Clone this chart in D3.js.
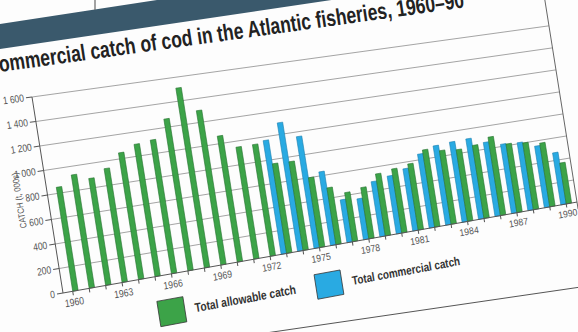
<!DOCTYPE html>
<html><head><meta charset="utf-8">
<script src="https://cdn.jsdelivr.net/npm/d3@7"></script>
<style>
html,body{margin:0;padding:0;width:578px;height:332px;overflow:hidden;background:#fdfdfd;}
svg{position:absolute;left:0;top:0;}
</style></head>
<body>
<script>
// ---- data ----
const years = [1960,1961,1962,1963,1964,1965,1966,1967,1968,1969,1970,1971,1972,1973,1974,1975,1976,1977,1978,1979,1980,1981,1982,1983,1984,1985,1986,1987,1988,1989,1990];
const allowableCatch = [850,930,880,940,1050,1100,1115,1270,1510,1300,1065,950,950,765,760,600,490,425,445,540,560,580,680,650,635,650,700,615,600,575,370];
const commercialYears = [1973,1974,1975,1976,1977,1978,1979,1980,1981,1982,1983,1984,1985,1986,1987,1988,1989,1990];
const commercialCatch = [970,1100,960,635,370,355,480,505,545,650,700,710,715,660,620,610,555,470];
const yTickValues = [0,200,400,600,800,1000,1200,1400,1600];
const yTickLabels = ["0","200","400","600","800","1 000","1 200","1 400","1 600"];
const xLabelYears = [1960,1963,1966,1969,1972,1975,1978,1981,1984,1987,1990];
const titleText = "Commercial catch of cod in the Atlantic fisheries, 1960–90";
const yAxisTitle = "CATCH (t, 000s)";
const legendLabels = ["Total allowable catch","Total commercial catch"];

// ---- photo geometry: bilinear warp of the flat chart (u along axis, yc up negative) ----
const C1=[63,293], C2=[32,97], C3=[583,201], C4=[555,25], UW=520, YH=198;
function P(u,yc){
  const t=u/UW, s=-yc/YH;
  const L=[C1[0]+s*(C2[0]-C1[0]), C1[1]+s*(C2[1]-C1[1])];
  const R=[C3[0]+s*(C4[0]-C3[0]), C3[1]+s*(C4[1]-C3[1])];
  return [L[0]+t*(R[0]-L[0]), L[1]+t*(R[1]-L[1])];
}
function M(u,yc){
  const p=P(u,yc), a=P(u+1,yc), b=P(u,yc+1);
  return `matrix(${a[0]-p[0]},${a[1]-p[1]},${b[0]-p[0]},${b[1]-p[1]},${p[0]},${p[1]})`;
}
const poly = pts => pts.map(q=>P(q[0],q[1]).join(",")).join(" ");

const svg = d3.select("body").append("svg").attr("width",578).attr("height",332);
svg.append("rect").attr("width",578).attr("height",332).attr("fill","#fdfdfd");

// header band
svg.append("polygon").attr("points","-10,25.5 -10,50.5 345,-2 170,-2").attr("fill","#3a596c");
svg.append("line").attr("x1",95).attr("x2",95).attr("y1",-1).attr("y2",10).attr("stroke","#666").attr("stroke-width",1.2);

// title
const ang = Math.atan(-0.139);
const title = svg.append("text").attr("transform",`matrix(${Math.cos(ang)},${Math.sin(ang)},0.15,0.99,0,72)`)
  .attr("x",0).attr("y",0).text(titleText)
  .attr("font-family","'Liberation Sans',Arial,sans-serif").attr("font-weight","bold")
  .attr("font-size",23).attr("fill","#222")
  .attr("textLength",482).attr("lengthAdjust","spacingAndGlyphs");
try{ const sx = title.node().getStartPositionOfChar(1).x; title.attr("x",-sx); }catch(e){ title.attr("x",-14); }

// scales
const x = d3.scaleBand().domain(years).range([1.5, 1.5+31*16.45]).padding(0);
const y = d3.scaleLinear().domain([0,1600]).range([0,-YH]);
const bw = 5.4, bwid = x.bandwidth(), plotW = 514;

// gridlines
svg.append("g").selectAll("line").data(yTickValues.filter(v=>v>0)).join("line")
  .attr("x1",d=>P(0,y(d))[0]).attr("y1",d=>P(0,y(d))[1])
  .attr("x2",d=>P(plotW,y(d))[0]).attr("y2",d=>P(plotW,y(d))[1])
  .attr("stroke","#9a9a9a").attr("stroke-width",0.9);

// frame right edge
svg.append("line").attr("x1",P(plotW,8)[0]).attr("y1",P(plotW,8)[1])
  .attr("x2",P(plotW,-320)[0]).attr("y2",P(plotW,-320)[1]).attr("stroke","#666").attr("stroke-width",1);

// bars
const barPoly = (x0,v) => poly([[x0,0],[x0+bw,0],[x0+bw,y(v)],[x0,y(v)]]);
svg.append("g").selectAll("polygon").data(commercialYears.map((yr,i)=>({yr,v:commercialCatch[i]}))).join("polygon")
  .attr("points",d=>barPoly(x(d.yr)+bwid/2-bw,d.v))
  .attr("fill","#29aae2").attr("stroke","#1b7fae").attr("stroke-width",0.6);
svg.append("g").selectAll("polygon").data(years.map((yr,i)=>({yr,v:allowableCatch[i]}))).join("polygon")
  .attr("points",d=>barPoly(x(d.yr)+bwid/2,d.v))
  .attr("fill","#3ca348").attr("stroke","#24702d").attr("stroke-width",0.6);

const fontAx = "'Liberation Sans',Arial,sans-serif";
// y axis
const yAxis = svg.append("g").call(d3.axisLeft(y).tickValues(yTickValues)
  .tickFormat((d,i)=>yTickLabels[i]).tickSize(6).tickPadding(2).tickSizeOuter(0));
yAxis.selectAll(".tick").attr("transform",d=>M(0,y(d)));
yAxis.select(".domain").attr("d",`M${P(0,0).join(",")}L${P(0,-YH).join(",")}`).attr("stroke","#555");
yAxis.selectAll(".tick line").attr("stroke","#555");
yAxis.selectAll("text").attr("font-family",fontAx).attr("font-size",10.5).attr("fill","#555")
  .attr("transform","scale(0.8,1)").attr("x",-8/0.8);

// x axis
const xAxis = svg.append("g").call(d3.axisBottom(x).tickValues(years)
  .tickFormat(d=>xLabelYears.includes(d)?String(d):"").tickSize(4).tickPadding(3).tickSizeOuter(0));
xAxis.selectAll(".tick").attr("transform",d=>M(x(d)+bwid/2,0));
xAxis.select(".domain").attr("d",`M${P(0,0).join(",")}L${P(plotW,0).join(",")}`).attr("stroke","#555");
xAxis.selectAll(".tick line").attr("stroke","#555");
xAxis.selectAll("text").attr("font-family",fontAx).attr("font-size",10.5).attr("fill","#555")
  .attr("transform","scale(0.82,1)");

// y title
svg.append("g").attr("transform",M(-28.5,-98)).append("text").attr("transform","rotate(-90)")
  .attr("text-anchor","middle").attr("dy","0.35em")
  .attr("font-family",fontAx).attr("font-size",9).attr("fill","#555")
  .attr("textLength",56).attr("lengthAdjust","spacingAndGlyphs").text(yAxisTitle);

// legend
const legColors = ["#3ca348","#29aae2"];
const legPos = [[103,38],[260,40]];
const legLen = [101,108];
legendLabels.forEach((lab,i)=>{
  const [cx,cy]=legPos[i];
  svg.append("polygon").attr("points",poly([[cx-13,cy-13],[cx+13,cy-13],[cx+13,cy+13],[cx-13,cy+13]]))
    .attr("fill",legColors[i]).attr("stroke","#333").attr("stroke-width",0.8);
  svg.append("g").attr("transform",M(cx+23,cy+5)).append("text").text(lab)
    .attr("font-family",fontAx).attr("font-weight","bold").attr("font-size",13).attr("fill","#333")
    .attr("textLength",legLen[i]).attr("lengthAdjust","spacingAndGlyphs");
});

// frame bottom line
svg.append("line").attr("x1",200).attr("y1",342.6).attr("x2",600).attr("y2",284.2).attr("stroke","#555").attr("stroke-width",1);
</script>
</body></html>
